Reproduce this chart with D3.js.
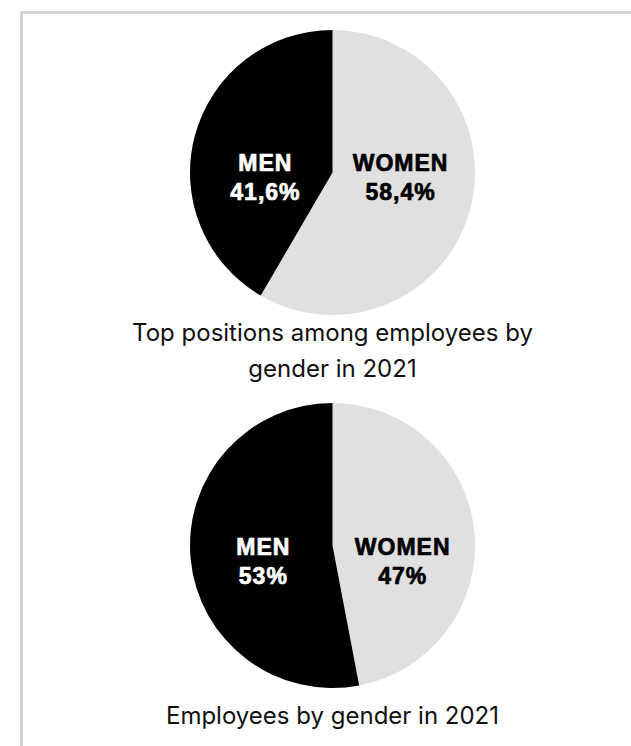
<!DOCTYPE html>
<html>
<head>
<meta charset="utf-8">
<script src="https://cdn.jsdelivr.net/npm/d3@7"></script>
<style>
  html, body { margin: 0; padding: 0; background: #fff; }
</style>
</head>
<body>
<svg id="chart" width="631" height="746"></svg>
<script>
// data
var categories = ["WOMEN", "MEN"];
var topPositions = [58.4, 41.6];
var topLabels = ["58,4%", "41,6%"];
var employees = [47, 53];
var employeeLabels = ["47%", "53%"];
var titles = [["Top positions among employees by", "gender in 2021"], ["Employees by gender in 2021"]];

var colors = d3.scaleOrdinal().domain(categories).range(["#e0e0e0", "#000000"]);
var textColors = d3.scaleOrdinal().domain(categories).range(["#000000", "#ffffff"]);

var svg = d3.select("#chart");

// frame (top and left rule)
svg.append("rect").attr("x", 20).attr("y", 11).attr("width", 611).attr("height", 3).style("fill", "#d3d3d3");
svg.append("rect").attr("x", 20).attr("y", 11).attr("width", 3).attr("height", 735).style("fill", "#d3d3d3");

var radius = 142.5;
var pie = d3.pie().sort(null).value(function(d) { return d.value; });
var arc = d3.arc().innerRadius(0).outerRadius(radius);
var labelArc = d3.arc().innerRadius(70).outerRadius(70);

var charts = [
  {values: topPositions, labels: topLabels, title: titles[0], cx: 332.5, cy: 172.5, labelDy: 4.5, titleY: 341},
  {values: employees, labels: employeeLabels, title: titles[1], cx: 332.5, cy: 545.5, labelDy: 15, titleY: 724}
];

charts.forEach(function(c) {
  var rows = categories.map(function(cat, i) {
    return {name: cat, value: c.values[i], label: c.labels[i]};
  });

  var g = svg.append("g")
    .attr("transform", "translate(" + c.cx + "," + c.cy + ")");

  var slices = pie(rows);

  g.selectAll("path")
    .data(slices)
    .enter().append("path")
    .attr("d", arc)
    .style("fill", function(d) { return colors(d.data.name); });

  var lbl = g.selectAll("text.lbl")
    .data(slices)
    .enter().append("text")
    .attr("class", "lbl")
    .attr("text-anchor", "middle")
    .attr("transform", function(d) {
      return "translate(" + (labelArc.centroid(d)[0] + 0.5) + "," + c.labelDy + ")";
    })
    .style("font-family", "'Liberation Sans', Arial, sans-serif")
    .style("font-weight", "bold")
    .style("font-size", "23px")
    .style("letter-spacing", "1px")
    .style("fill", function(d) { return textColors(d.data.name); })
    .style("stroke", function(d) { return textColors(d.data.name); })
    .style("stroke-width", "0.7px");

  lbl.append("tspan").attr("x", 0).attr("y", -6).text(function(d) { return d.data.name; });
  lbl.append("tspan").attr("x", 0).attr("y", 23).text(function(d) { return d.data.label; });

  var t = svg.append("text")
    .attr("text-anchor", "middle")
    .style("font-family", "Inter, sans-serif")
    .style("font-size", "24px")
    .style("fill", "#111");
  c.title.forEach(function(line, i) {
    t.append("tspan").attr("x", c.cx).attr("y", c.titleY + i * 36).text(line);
  });
});
</script>
</body>
</html>
